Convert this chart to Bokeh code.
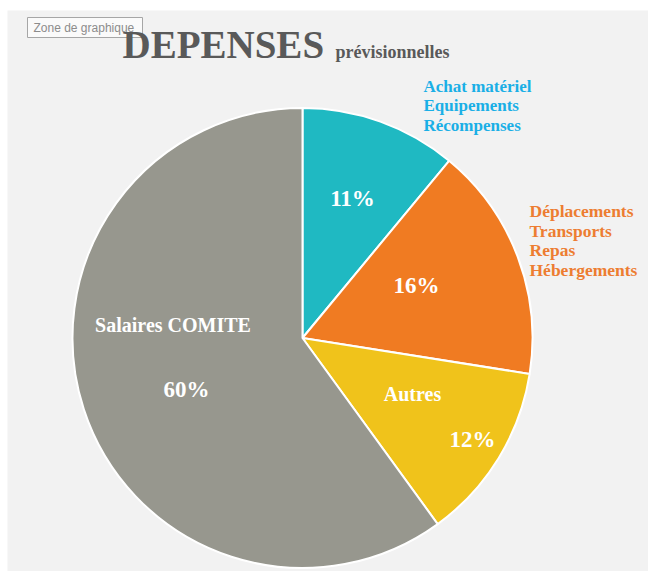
import numpy as np
from bokeh.plotting import figure
from bokeh.models import Range1d, ColumnDataSource
from bokeh.core.properties import value
from bokeh.embed import file_html
from bokeh.resources import INLINE

# ---- data ----
categories = ["Achat matériel", "Déplacements", "Autres", "Salaires COMITE"]
shares = [11.0, 16.5, 12.5, 60.0]
pct_labels = ["11%", "16%", "12%", "60%"]
slice_colors = ["#1FB9C2", "#F07B22", "#F0C31B", "#97978E"]
blue_lines = ["Achat matériel", "Equipements", "Récompenses"]
orange_lines = ["Déplacements", "Transports", "Repas", "Hébergements"]
title_main = "DEPENSES"
title_sub = "prévisionnelles"

# ---- layout (pixels, figure coordinates) ----
W, H = 648, 571
ML, MT = 7, 10
FW, FH = W - ML, H - MT
CX, CY, R = 295, 233.5, 230
SERIF = value("Liberation Serif")

p = figure(width=W, height=H, output_backend="svg", toolbar_location=None,
           x_range=Range1d(0, FW), y_range=Range1d(0, FH),
           min_border_left=ML, min_border_top=MT, min_border_right=0, min_border_bottom=0)
p.axis.visible = False
p.grid.visible = False
p.outline_line_color = None
p.background_fill_color = "#F2F2F2"
p.border_fill_color = "white"

frac = np.array(shares) / sum(shares)
cum = np.concatenate([[0], np.cumsum(frac)])
start = np.pi / 2 - cum[:-1] * 2 * np.pi
end = np.pi / 2 - cum[1:] * 2 * np.pi
src = ColumnDataSource(dict(start=start, end=end, color=slice_colors, cat=categories))
p.wedge(x=CX, y=CY, radius=R, start_angle="start", end_angle="end",
        direction="clock", fill_color="color", line_color="white",
        line_width=2, source=src)

# tooltip box "Zone de graphique"
p.quad(left=20, right=135, bottom=534, top=554, fill_color="#FAFAFA",
       line_color="#A6A6A6", line_width=1)
p.text(x=[26], y=[543.3], text=["Zone de graphique"], text_font=value("Liberation Sans"),
       text_font_size="12px", text_color="#8C8C8C", text_baseline="alphabetic")

# title
p.text(x=[115], y=[527], text=[title_main], text_font=SERIF, text_font_style="bold",
       text_font_size="39px", text_color="#595959", text_baseline="alphabetic")
p.text(x=[328], y=[519.5], text=[title_sub], text_font=SERIF, text_font_style="bold",
       text_font_size="18px", text_color="#595959", text_baseline="alphabetic")

# outside labels
p.text(x=[416] * 3, y=[485.1, 465.6, 446.1], text=blue_lines, text_font=SERIF,
       text_font_style="bold", text_font_size="17px", text_color="#1AAFE6",
       text_baseline="alphabetic")
p.text(x=[522] * 4, y=[360.3, 340.8, 321.3, 301.8], text=orange_lines, text_font=SERIF,
       text_font_style="bold", text_font_size="17.5px", text_color="#ED7D31",
       text_baseline="alphabetic")

# inside labels
p.text(x=[345, 409, 465, 179], y=[373.3, 286.3, 132.3, 182.3], text=pct_labels, text_font=SERIF,
       text_font_style="bold", text_font_size="23px", text_color="white",
       text_align="center", text_baseline="alphabetic")
p.text(x=[405, 165.5], y=[177.2, 246.2], text=[categories[2], categories[3]], text_font=SERIF,
       text_font_style="bold", text_font_size="20px", text_color="white",
       text_align="center", text_baseline="alphabetic")

open("out.html", "w").write(file_html(p, INLINE))
